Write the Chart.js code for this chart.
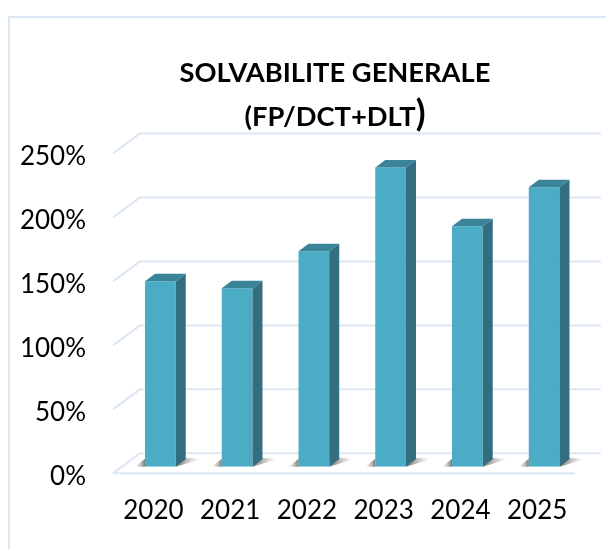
<!DOCTYPE html>
<html><head><meta charset="utf-8">
<style>html,body{margin:0;padding:0;background:#fff}#w{position:relative;width:606px;height:549px}</style>
<script src="https://cdn.jsdelivr.net/npm/chart.js@4"></script></head>
<body><div id="w"><canvas id="c" width="606" height="549"></canvas></div>
<script>
const categories=['2020','2021','2022','2023','2024','2025'];
const values=[145,139.5,168.5,234,188,218.5];
const tickValues=[0,50,100,150,200,250];
const titleLine1='SOLVABILITE GENERALE';
const titleLine2='(FP/DCT+DLT';
const titleClose=')';
const GRID='#dce6f4', FRONT='#4bacc6', TOP='#3a8499', SIDE='#326e7f';
const DX=10, DY=7.5;
const depth={
 id:'depth',
 beforeDatasetsDraw(ch){
  const c=ch.ctx,y=ch.scales.y;
  c.save();
  c.strokeStyle=GRID;c.lineWidth=2;
  c.beginPath();c.moveTo(9,549);c.lineTo(9,17);c.lineTo(606,17);c.stroke();
  tickValues.forEach(v=>{
   const p=y.getPixelForValue(v);
   c.beginPath();c.moveTo(113,p+6.5);c.lineTo(140,p-13.5);c.lineTo(601,p-13.5);c.stroke();
  });
  const p0=y.getPixelForValue(0);
  c.beginPath();c.moveTo(113,p0+6.5);c.lineTo(575,p0+6.5);c.stroke();
  const m=ch.getDatasetMeta(0);
  m.data.forEach(b=>{
   const L=b.x-b.width/2,R=b.x+b.width/2;
   let g=c.createLinearGradient(R,0,R+24,0);
   g.addColorStop(0,'rgba(85,78,70,.8)');g.addColorStop(1,'rgba(150,140,130,0)');
   c.fillStyle=g;c.beginPath();c.moveTo(R,p0);c.lineTo(R+26,p0-8);c.lineTo(R+8,p0-9);c.closePath();c.fill();
   g=c.createLinearGradient(L-10,0,L,0);
   g.addColorStop(0,'rgba(150,140,130,0)');g.addColorStop(1,'rgba(85,78,70,.75)');
   c.fillStyle=g;c.beginPath();c.moveTo(L,p0);c.lineTo(L-10,p0);c.lineTo(L,p0-8);c.closePath();c.fill();
  });
  c.restore();
 },
 afterDatasetsDraw(ch){
  const c=ch.ctx;
  c.save();
  ch.getDatasetMeta(0).data.forEach(b=>{
   const L=b.x-b.width/2,R=b.x+b.width/2,T=b.y,B=b.base;
   c.fillStyle=SIDE;c.beginPath();c.moveTo(R,T);c.lineTo(R+DX,T-DY);c.lineTo(R+DX,B-DY);c.lineTo(R,B);c.closePath();c.fill();
   c.fillStyle=TOP;c.beginPath();c.moveTo(L,T);c.lineTo(L+DX,T-DY);c.lineTo(R+DX,T-DY);c.lineTo(R,T);c.closePath();c.fill();
  });
  c.fillStyle='#000';c.textBaseline='alphabetic';c.textAlign='left';
  const F='bold 27.3px Lato, Carlito, sans-serif',F2='bold 36px Lato, Carlito, sans-serif';
  c.font=F;
  const w1=c.measureText(titleLine1).width;
  c.fillText(titleLine1,335-w1/2,82);
  const w2=c.measureText(titleLine2).width;
  c.font=F2;
  const w3=c.measureText(titleClose).width;
  c.font=F;
  const x2=335-(w2+w3)/2;
  c.fillText(titleLine2,x2,126);
  c.font=F2;
  c.fillText(titleClose,x2+w2,126);
  c.restore();
 }
};
new Chart(document.getElementById('c'),{
 type:'bar',
 data:{labels:categories,datasets:[{data:values,backgroundColor:FRONT,borderWidth:0,categoryPercentage:.4,barPercentage:1}]},
 options:{
  responsive:false,animation:false,
  layout:{padding:{left:0,right:23.5,top:147,bottom:3}},
  plugins:{legend:{display:false},title:{display:false},tooltip:{enabled:false}},
  scales:{
   x:{grid:{display:false},border:{display:false},
      ticks:{color:'#000',font:{family:'Lato, Carlito, sans-serif',size:26},labelOffset:-7,padding:20,maxRotation:0}},
   y:{min:0,max:250,afterBuildTicks(ax){ax.ticks=tickValues.map(v=>({value:v}));},
      afterFit(ax){ax.width=122;},
      grid:{display:false},border:{display:false},
      ticks:{color:'#000',font:{family:'Lato, Carlito, sans-serif',size:26},padding:28,labelOffset:10,callback:v=>v+'%'}}
  }
 },
 plugins:[depth]
});
</script></body></html>
